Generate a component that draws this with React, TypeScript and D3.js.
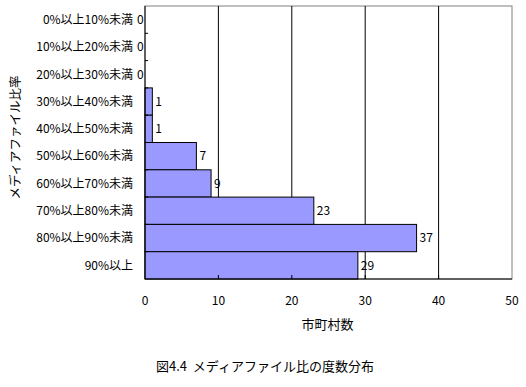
import { useEffect, useRef } from "react";
import * as d3 from "d3";

// メディアファイル比の度数分布（図4.4）
const categories = [
  "0%以上10%未満",
  "10%以上20%未満",
  "20%以上30%未満",
  "30%以上40%未満",
  "40%以上50%未満",
  "50%以上60%未満",
  "60%以上70%未満",
  "70%以上80%未満",
  "80%以上90%未満",
  "90%以上",
];
const counts = [0, 0, 0, 1, 1, 7, 9, 23, 37, 29];
const xTicks = [0, 10, 20, 30, 40, 50];

const FONT = "'Noto Sans CJK JP', sans-serif";

export default function App() {
  const svgRef = useRef<SVGSVGElement>(null);

  useEffect(() => {
    if (!svgRef.current) return;
    const svg = d3.select(svgRef.current);
    svg.selectAll("*").remove();

    const W = 526;
    const H = 387;
    const margin = { top: 6, right: 14, bottom: 108, left: 145 };
    const iW = W - margin.left - margin.right;
    const iH = H - margin.top - margin.bottom;

    const g = svg.append("g").attr("transform", `translate(${margin.left},${margin.top})`);

    const x = d3.scaleLinear().domain([0, 50]).range([0, iW]);
    const y = d3.scaleBand<string>().domain(categories).range([0, iH]).padding(0);

    // 枠（上・右は灰色）
    g.append("rect")
      .attr("x", 0).attr("y", 0).attr("width", iW).attr("height", iH)
      .attr("fill", "white").attr("stroke", "#808080").attr("stroke-width", 1);

    // 目盛線
    g.append("g").selectAll("line")
      .data(xTicks.filter((d) => d > 0 && d < 50))
      .join("line")
      .attr("x1", (d) => x(d)).attr("x2", (d) => x(d))
      .attr("y1", 0).attr("y2", iH)
      .attr("stroke", "black").attr("stroke-width", 1);

    // 棒
    g.append("g").selectAll("rect")
      .data(categories)
      .join("rect")
      .attr("x", 0)
      .attr("y", (d) => y(d)!)
      .attr("width", (_, i) => x(counts[i]))
      .attr("height", y.bandwidth())
      .attr("fill", "#9999ff")
      .attr("stroke", "black")
      .attr("stroke-width", 1);

    // データラベル
    g.append("g").selectAll("text")
      .data(categories)
      .join("text")
      .attr("x", (_, i) => (counts[i] === 0 ? x(0) - 8 : x(counts[i]) + 3))
      .attr("y", (d) => y(d)! + y.bandwidth() / 2)
      .attr("dy", "0.36em")
      .attr("font-family", FONT)
      .attr("font-size", 12)
      .text((_, i) => counts[i]);

    // 左軸
    g.append("line")
      .attr("x1", 0).attr("x2", 0).attr("y1", 0).attr("y2", iH)
      .attr("stroke", "black");
    g.append("g").selectAll("line")
      .data(d3.range(1, categories.length))
      .join("line")
      .attr("x1", 0).attr("x2", 3)
      .attr("y1", (i) => y(categories[i])!).attr("y2", (i) => y(categories[i])!)
      .attr("stroke", "black");
    g.append("g").selectAll("text")
      .data(categories)
      .join("text")
      .attr("x", -12)
      .attr("y", (d) => y(d)! + y.bandwidth() / 2)
      .attr("dy", "0.36em")
      .attr("text-anchor", "end")
      .attr("font-family", FONT)
      .attr("font-size", 12)
      .text((d) => d);

    // 下軸
    g.append("line")
      .attr("x1", 0).attr("x2", iW).attr("y1", iH).attr("y2", iH)
      .attr("stroke", "black");
    g.append("g").selectAll("line")
      .data(xTicks.slice(1, -1))
      .join("line")
      .attr("x1", (d) => x(d)).attr("x2", (d) => x(d))
      .attr("y1", iH).attr("y2", iH - 4)
      .attr("stroke", "black");
    g.append("g").selectAll("text")
      .data(xTicks)
      .join("text")
      .attr("x", (d) => x(d))
      .attr("y", iH + 22)
      .attr("dy", "0.36em")
      .attr("text-anchor", "middle")
      .attr("font-family", FONT)
      .attr("font-size", 12)
      .text((d) => d);

    // 軸タイトル
    g.append("text")
      .attr("x", iW / 2 - 1)
      .attr("y", iH + 45)
      .attr("dy", "0.36em")
      .attr("text-anchor", "middle")
      .attr("font-family", FONT)
      .attr("font-size", 13)
      .text("市町村数");

    svg.append("text")
      .attr("transform", `translate(15,${margin.top + iH / 2 - 5}) rotate(-90)`)
      .attr("dy", "0.36em")
      .attr("text-anchor", "middle")
      .attr("font-family", FONT)
      .attr("font-size", 12.5)
      .text("メディアファイル比率");

    // 図番号
    svg.append("text")
      .attr("x", 156)
      .attr("y", 366)
      .attr("dy", "0.36em")
      .attr("font-family", FONT)
      .attr("font-size", 13)
      .attr("xml:space", "preserve")
      .style("white-space", "pre")
      .text("図4.4  メディアファイル比の度数分布");
  }, []);

  return (
    <svg
      ref={svgRef}
      width={526}
      height={387}
      style={{ position: "absolute", left: 0, top: 0, background: "white" }}
    />
  );
}
